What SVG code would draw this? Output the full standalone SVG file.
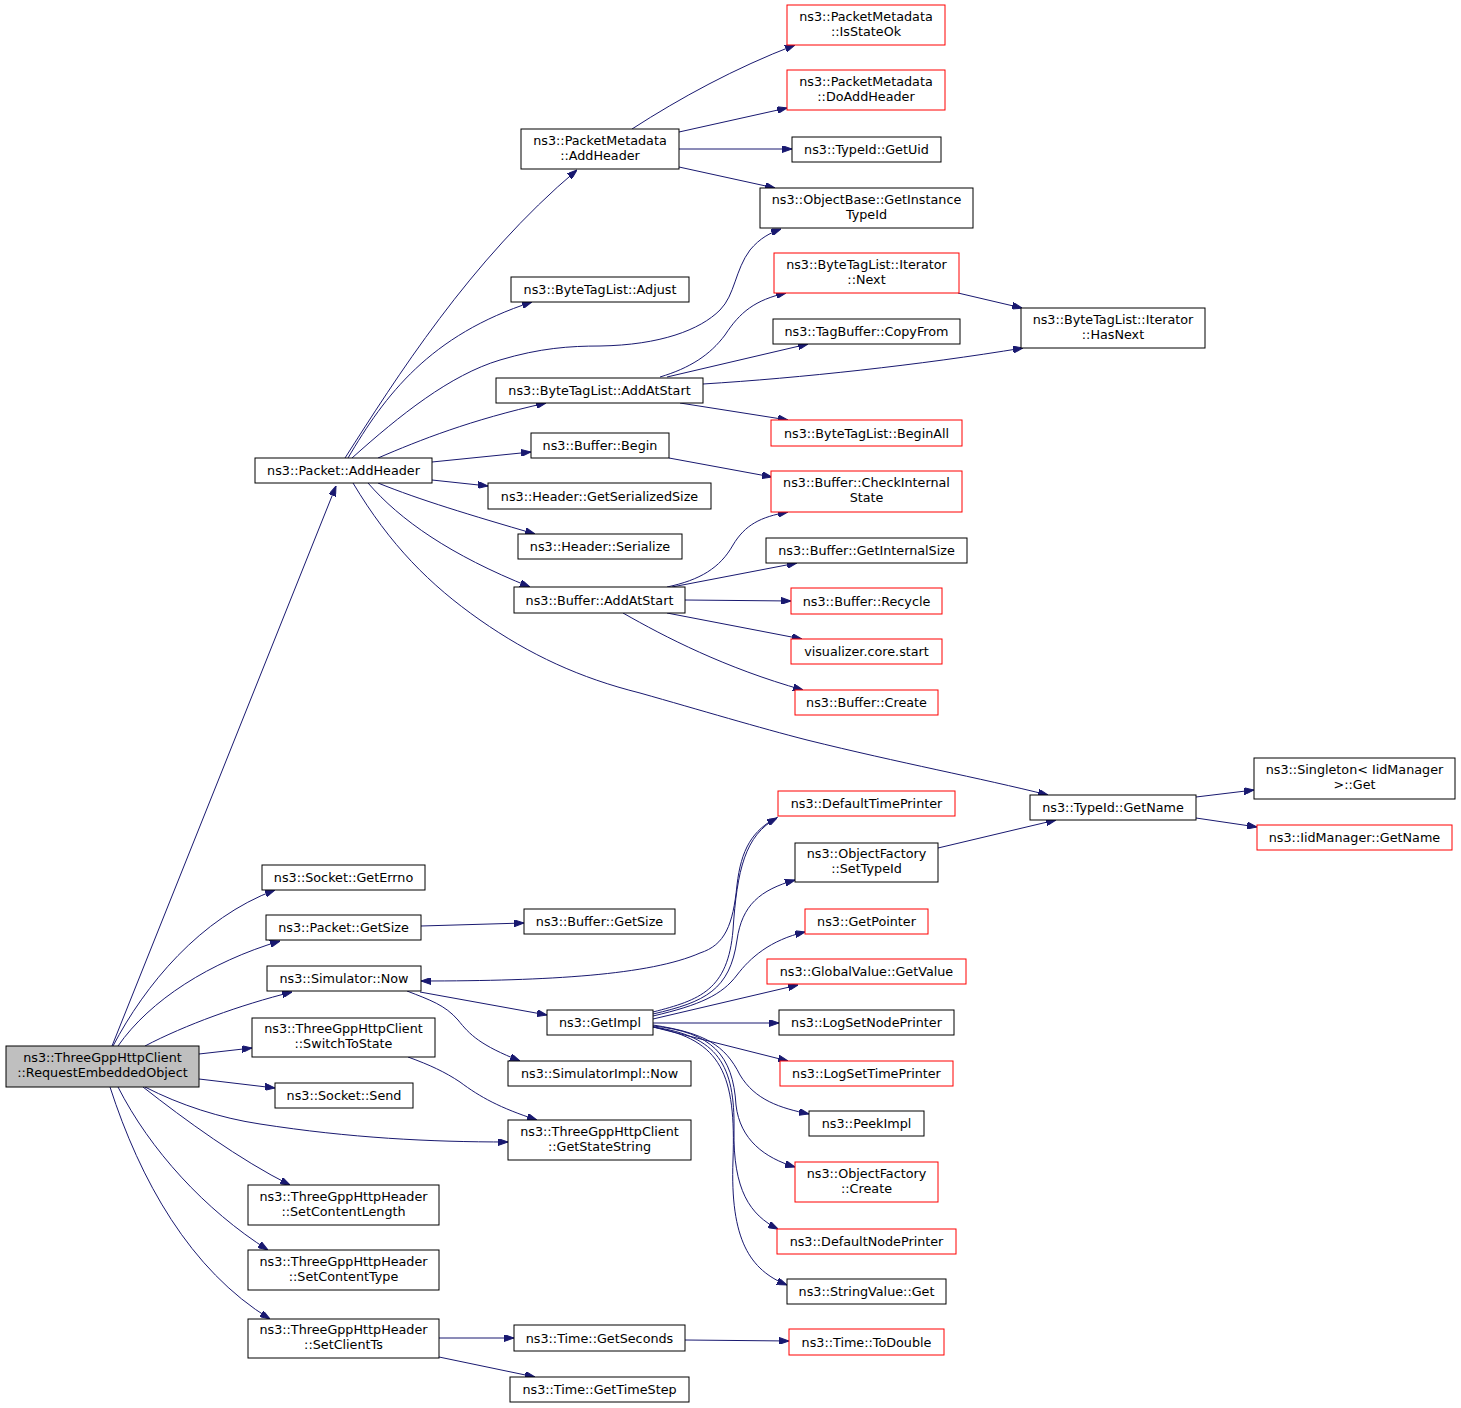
<svg xmlns="http://www.w3.org/2000/svg" width="1461" height="1408" viewBox="0 0 1461 1408">
<style>
.n{fill:#fff;stroke:#000;stroke-width:1}
.r{fill:#fff;stroke:#f00;stroke-width:1}
.g{fill:#bfbfbf;stroke:#000;stroke-width:1}
.e{fill:none;stroke:#191970;stroke-width:1;marker-end:url(#a)}
text{font-family:"DejaVu Sans","Liberation Sans",sans-serif;font-size:12.75px;text-anchor:middle;fill:#000}
</style>
<defs>
<marker id="a" viewBox="0 0 10 7" refX="10" refY="3.5" markerWidth="10" markerHeight="7" markerUnits="userSpaceOnUse" orient="auto">
<path d="M0,0 L10,3.5 L0,7 z" fill="#191970" stroke="#191970"/>
</marker>
</defs>
<rect width="1461" height="1408" fill="#fff"/>
<g id="edges">
<path class="e" d="M112,1046 L336,486"/>
<path class="e" d="M113,1046 C145,985 200,918 275,890"/>
<path class="e" d="M118,1046 C150,1000 210,962 280,941"/>
<path class="e" d="M145,1046 C185,1025 240,1005 292,992"/>
<path class="e" d="M199,1054 L252,1048"/>
<path class="e" d="M199,1079 L275,1088"/>
<path class="e" d="M145,1087 C180,1105 220,1118 260,1124 C350,1138 430,1142 508,1142"/>
<path class="e" d="M143,1087 C185,1120 240,1160 290,1185"/>
<path class="e" d="M118,1087 C150,1150 205,1210 268,1250"/>
<path class="e" d="M110,1087 C140,1180 190,1270 270,1319"/>
<path class="e" d="M345,458 C395,380 470,260 577,170"/>
<path class="e" d="M348,458 C385,395 430,335 532,302"/>
<path class="e" d="M352,458 C400,415 450,375 500,360 C540,348 570,346 600,346 C660,345 700,330 720,310 C735,295 735,270 750,250 C760,238 770,233 781,229"/>
<path class="e" d="M378,458 C420,440 470,420 546,403"/>
<path class="e" d="M432,462 L531,452"/>
<path class="e" d="M432,480 L488,486"/>
<path class="e" d="M378,483 C420,500 470,515 535,534"/>
<path class="e" d="M368,483 C400,520 450,555 530,587"/>
<path class="e" d="M353,483 C390,545 430,585 480,620 C530,655 580,678 640,693 C700,710 760,728 807,740 C900,763 980,778 1048,795"/>
<path class="e" d="M632,129 C680,98 735,68 795,45"/>
<path class="e" d="M679,132 L787,108"/>
<path class="e" d="M679,149 L792,149"/>
<path class="e" d="M679,167 L775,188"/>
<path class="e" d="M660,377 C690,368 710,355 725,335 C740,312 755,300 786,293"/>
<path class="e" d="M667,377 L808,344"/>
<path class="e" d="M703,384 C800,378 920,365 1023,348"/>
<path class="e" d="M680,403 L788,420"/>
<path class="e" d="M958,293 L1022,308"/>
<path class="e" d="M669,458 L772,477"/>
<path class="e" d="M667,587 C700,580 720,568 733,545 C745,525 760,517 788,512"/>
<path class="e" d="M672,587 L797,563"/>
<path class="e" d="M685,600 L791,601"/>
<path class="e" d="M667,613 L802,639"/>
<path class="e" d="M623,613 C665,637 725,668 803,690"/>
<path class="e" d="M1196,797 L1254,790"/>
<path class="e" d="M1196,818 L1257,827"/>
<path class="e" d="M938,848 L1056,820"/>
<path class="e" d="M421,926 L524,923"/>
<path class="e" d="M420,992 L547,1015"/>
<path class="e" d="M407,991 C430,1000 445,1005 458,1020 C470,1035 480,1045 520,1061"/>
<path class="e" d="M778,817 C752,830 741,850 737,885 C733,925 725,945 700,953 C650,975 550,981 421,981"/>
<path class="e" d="M653,1012 C700,1000 728,990 733,930 C737,870 745,835 777,818"/>
<path class="e" d="M653,1014 C705,1002 730,990 737,940 C742,905 760,890 795,880"/>
<path class="e" d="M653,1016 C700,1005 722,995 737,975 C750,958 770,940 805,932"/>
<path class="e" d="M653,1019 L798,985"/>
<path class="e" d="M653,1023 L779,1023"/>
<path class="e" d="M653,1027 L788,1061"/>
<path class="e" d="M653,1025 C705,1033 725,1045 740,1075 C755,1100 780,1108 809,1114"/>
<path class="e" d="M653,1026 C712,1032 733,1055 736,1105 C740,1140 765,1158 795,1167"/>
<path class="e" d="M653,1027 C718,1036 735,1065 734,1130 C733,1190 750,1215 778,1229"/>
<path class="e" d="M653,1027 C722,1040 736,1075 733,1160 C730,1240 750,1270 787,1285"/>
<path class="e" d="M408,1057 C430,1065 445,1072 460,1082 C480,1097 500,1108 537,1120"/>
<path class="e" d="M439,1338 L514,1338"/>
<path class="e" d="M439,1357 L535,1377"/>
<path class="e" d="M685,1340 L789,1341"/>
</g>
<g id="REO"><rect class="g" x="6" y="1046" width="193" height="41"/><text x="102.5" y="1062">ns3::ThreeGppHttpClient</text><text x="102.5" y="1077">::RequestEmbeddedObject</text></g>
<g id="PAH"><rect class="n" x="255" y="458" width="177" height="25"/><text x="343.5" y="475">ns3::Packet::AddHeader</text></g>
<g id="PMAH"><rect class="n" x="521" y="129" width="158" height="40"/><text x="600" y="144.5">ns3::PacketMetadata</text><text x="600" y="159.5">::AddHeader</text></g>
<g id="ISOK"><rect class="r" x="787" y="5" width="158" height="40"/><text x="866" y="20.5">ns3::PacketMetadata</text><text x="866" y="35.5">::IsStateOk</text></g>
<g id="DOAH"><rect class="r" x="787" y="70" width="158" height="40"/><text x="866" y="85.5">ns3::PacketMetadata</text><text x="866" y="100.5">::DoAddHeader</text></g>
<g id="GUID"><rect class="n" x="792" y="137" width="149" height="25"/><text x="866.5" y="154">ns3::TypeId::GetUid</text></g>
<g id="GITI"><rect class="n" x="760" y="188" width="213" height="40"/><text x="866.5" y="203.5">ns3::ObjectBase::GetInstance</text><text x="866.5" y="218.5">TypeId</text></g>
<g id="BTLA"><rect class="n" x="511" y="277" width="178" height="25"/><text x="600" y="294">ns3::ByteTagList::Adjust</text></g>
<g id="NEXT"><rect class="r" x="774" y="253" width="185" height="40"/><text x="866.5" y="268.5">ns3::ByteTagList::Iterator</text><text x="866.5" y="283.5">::Next</text></g>
<g id="CPF"><rect class="n" x="773" y="319" width="187" height="25"/><text x="866.5" y="336">ns3::TagBuffer::CopyFrom</text></g>
<g id="HASN"><rect class="n" x="1021" y="308" width="184" height="40"/><text x="1113" y="323.5">ns3::ByteTagList::Iterator</text><text x="1113" y="338.5">::HasNext</text></g>
<g id="BTAS"><rect class="n" x="496" y="378" width="207" height="25"/><text x="599.5" y="395">ns3::ByteTagList::AddAtStart</text></g>
<g id="BALL"><rect class="r" x="771" y="420" width="191" height="26"/><text x="866.5" y="437.5">ns3::ByteTagList::BeginAll</text></g>
<g id="BBEG"><rect class="n" x="531" y="433" width="138" height="25"/><text x="600" y="450">ns3::Buffer::Begin</text></g>
<g id="HGSS"><rect class="n" x="488" y="483" width="223" height="26"/><text x="599.5" y="500.5">ns3::Header::GetSerializedSize</text></g>
<g id="CIS"><rect class="r" x="771" y="471" width="191" height="41"/><text x="866.5" y="487">ns3::Buffer::CheckInternal</text><text x="866.5" y="502">State</text></g>
<g id="HSER"><rect class="n" x="518" y="534" width="164" height="25"/><text x="600" y="551">ns3::Header::Serialize</text></g>
<g id="GIS"><rect class="n" x="766" y="538" width="201" height="25"/><text x="866.5" y="555">ns3::Buffer::GetInternalSize</text></g>
<g id="BAAS"><rect class="n" x="514" y="587" width="171" height="26"/><text x="599.5" y="604.5">ns3::Buffer::AddAtStart</text></g>
<g id="REC"><rect class="r" x="791" y="588" width="151" height="26"/><text x="866.5" y="605.5">ns3::Buffer::Recycle</text></g>
<g id="VIS"><rect class="r" x="791" y="639" width="151" height="25"/><text x="866.5" y="656">visualizer.core.start</text></g>
<g id="BCR"><rect class="r" x="795" y="690" width="143" height="25"/><text x="866.5" y="707">ns3::Buffer::Create</text></g>
<g id="TGN"><rect class="n" x="1030" y="795" width="166" height="25"/><text x="1113" y="812">ns3::TypeId::GetName</text></g>
<g id="SING"><rect class="n" x="1254" y="758" width="201" height="41"/><text x="1354.5" y="774">ns3::Singleton&lt; IidManager</text><text x="1354.5" y="789">&gt;::Get</text></g>
<g id="IIDN"><rect class="r" x="1257" y="825" width="195" height="25"/><text x="1354.5" y="842">ns3::IidManager::GetName</text></g>
<g id="DTP"><rect class="r" x="778" y="791" width="177" height="25"/><text x="866.5" y="808">ns3::DefaultTimePrinter</text></g>
<g id="OFST"><rect class="n" x="795" y="843" width="143" height="39"/><text x="866.5" y="858">ns3::ObjectFactory</text><text x="866.5" y="873">::SetTypeId</text></g>
<g id="GPTR"><rect class="r" x="805" y="909" width="123" height="25"/><text x="866.5" y="926">ns3::GetPointer</text></g>
<g id="GVGV"><rect class="r" x="767" y="959" width="199" height="25"/><text x="866.5" y="976">ns3::GlobalValue::GetValue</text></g>
<g id="LSNP"><rect class="n" x="779" y="1010" width="175" height="25"/><text x="866.5" y="1027">ns3::LogSetNodePrinter</text></g>
<g id="LSTP"><rect class="r" x="780" y="1061" width="173" height="25"/><text x="866.5" y="1078">ns3::LogSetTimePrinter</text></g>
<g id="PEEK"><rect class="n" x="809" y="1111" width="115" height="25"/><text x="866.5" y="1128">ns3::PeekImpl</text></g>
<g id="OFCR"><rect class="r" x="795" y="1162" width="143" height="40"/><text x="866.5" y="1177.5">ns3::ObjectFactory</text><text x="866.5" y="1192.5">::Create</text></g>
<g id="DNP"><rect class="r" x="777" y="1229" width="179" height="25"/><text x="866.5" y="1246">ns3::DefaultNodePrinter</text></g>
<g id="SVGET"><rect class="n" x="787" y="1279" width="159" height="25"/><text x="866.5" y="1296">ns3::StringValue::Get</text></g>
<g id="GIMP"><rect class="n" x="547" y="1010" width="106" height="25"/><text x="600" y="1027">ns3::GetImpl</text></g>
<g id="SGE"><rect class="n" x="262" y="865" width="163" height="25"/><text x="343.5" y="882">ns3::Socket::GetErrno</text></g>
<g id="PGS"><rect class="n" x="266" y="915" width="155" height="25"/><text x="343.5" y="932">ns3::Packet::GetSize</text></g>
<g id="BGS"><rect class="n" x="524" y="909" width="151" height="25"/><text x="599.5" y="926">ns3::Buffer::GetSize</text></g>
<g id="SNOW"><rect class="n" x="267" y="966" width="154" height="25"/><text x="344" y="983">ns3::Simulator::Now</text></g>
<g id="STS"><rect class="n" x="252" y="1018" width="183" height="39"/><text x="343.5" y="1033">ns3::ThreeGppHttpClient</text><text x="343.5" y="1048">::SwitchToState</text></g>
<g id="SIN"><rect class="n" x="508" y="1061" width="183" height="25"/><text x="599.5" y="1078">ns3::SimulatorImpl::Now</text></g>
<g id="SSEND"><rect class="n" x="275" y="1083" width="138" height="25"/><text x="344" y="1100">ns3::Socket::Send</text></g>
<g id="GSS"><rect class="n" x="508" y="1120" width="183" height="40"/><text x="599.5" y="1135.5">ns3::ThreeGppHttpClient</text><text x="599.5" y="1150.5">::GetStateString</text></g>
<g id="SCL"><rect class="n" x="248" y="1185" width="191" height="40"/><text x="343.5" y="1200.5">ns3::ThreeGppHttpHeader</text><text x="343.5" y="1215.5">::SetContentLength</text></g>
<g id="SCT"><rect class="n" x="248" y="1250" width="191" height="40"/><text x="343.5" y="1265.5">ns3::ThreeGppHttpHeader</text><text x="343.5" y="1280.5">::SetContentType</text></g>
<g id="SCTS"><rect class="n" x="248" y="1319" width="191" height="39"/><text x="343.5" y="1334">ns3::ThreeGppHttpHeader</text><text x="343.5" y="1349">::SetClientTs</text></g>
<g id="TGS"><rect class="n" x="514" y="1325" width="171" height="26"/><text x="599.5" y="1342.5">ns3::Time::GetSeconds</text></g>
<g id="TTD"><rect class="r" x="789" y="1329" width="155" height="26"/><text x="866.5" y="1346.5">ns3::Time::ToDouble</text></g>
<g id="TGTS"><rect class="n" x="510" y="1377" width="179" height="25"/><text x="599.5" y="1394">ns3::Time::GetTimeStep</text></g>
</svg>
